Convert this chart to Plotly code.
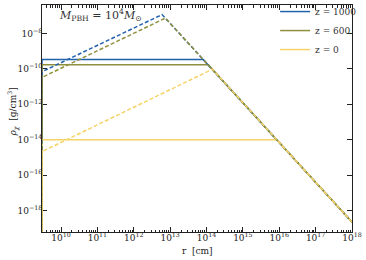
import plotly.graph_objects as go
import numpy as np

# ---- data ----
z_labels = ["z = 1000", "z = 600", "z = 0"]
colors = ["#2262ad", "#8f8f3d", "#f6d366"]

r_min = 3e9
r_max = 1e18
rho_rmax = 2.2e-19          # common r^-9/4 tail value at r_max

# solid curves: plateau then r^-9/4 tail
rho_plateau = [3.4e-10, 1.7e-10, 1.0e-14]
r_knee_solid = [8.1e13, 1.12e14, 8.5e15]

# dashed curves: rising part, peak, then same tail
rho_dashed_rmin = [6.9e-11, 3.3e-11, 2.1e-15]
r_peak_dashed = [6.0e12, 7.4e12, 1.45e14]
rho_peak_dashed = [1.17e-7, 7.4e-8, 9.5e-11]

rho_floor = 1e-30            # curves drop to ~0 at r_min

x_tick_vals = [1e10, 1e11, 1e12, 1e13, 1e14, 1e15, 1e16, 1e17, 1e18]
x_tick_text = ["10<sup>%d</sup>" % e for e in range(10, 19)]
y_tick_vals = [1e-8, 1e-10, 1e-12, 1e-14, 1e-16, 1e-18]
y_tick_text = ["10<sup>\u2212%d</sup>" % e for e in (8, 10, 12, 14, 16, 18)]

FONT = "DejaVu Serif"

fig = go.Figure()

# solid lines
for i in range(3):
    fig.add_trace(go.Scatter(
        x=[r_min, r_min, r_knee_solid[i], r_max],
        y=[rho_floor, rho_plateau[i], rho_plateau[i], rho_rmax],
        mode="lines", name=z_labels[i],
        line=dict(color=colors[i], width=1.5),
        showlegend=True))
# dashed lines
for i in range(3):
    fig.add_trace(go.Scatter(
        x=[r_min, r_min, r_peak_dashed[i], r_max],
        y=[rho_floor, rho_dashed_rmin[i], rho_peak_dashed[i], rho_rmax],
        mode="lines", name=z_labels[i] + " (dashed)",
        line=dict(color=colors[i], width=1.5, dash="4px,2.2px"),
        showlegend=False))

minor_x = [k * 10.0**n for n in range(9, 18) for k in range(2, 10)]

fig.update_xaxes(
    type="log", range=[np.log10(r_min), 18], automargin=False,
    tickvals=x_tick_vals, ticktext=x_tick_text,
    ticks="inside", ticklen=5, tickwidth=1, tickcolor="#222",
    mirror="allticks", showline=True, linecolor="#222", linewidth=1,
    showgrid=False, zeroline=False,
    minor=dict(tickvals=minor_x, ticks="inside", ticklen=2.5,
               tickwidth=0.8, tickcolor="#222", showgrid=False),
    tickfont=dict(family=FONT, size=9, color="#222"),
    ticklabelstandoff=-3,
    layer="below traces",
)
fig.update_yaxes(
    type="log", range=[-19.22, -6.39], automargin=False,
    tickvals=y_tick_vals, ticktext=y_tick_text,
    ticks="inside", ticklen=5, tickwidth=1, tickcolor="#222",
    mirror="allticks", showline=True, linecolor="#222", linewidth=1,
    showgrid=False, zeroline=False,
    tickfont=dict(family=FONT, size=9, color="#222"),
    ticklabelstandoff=-3,
    layer="below traces",
)

fig.add_annotation(
    text="<i>M</i><sub>PBH</sub> = 10<sup>4</sup><i>M</i><sub>\u2299</sub>",
    xref="paper", yref="paper", x=0.048, y=0.955, xanchor="left", yanchor="middle",
    showarrow=False, font=dict(family=FONT, size=11, color="#333"))

fig.add_annotation(
    text="<i>\u03c1</i><sub><i>\u03c7</i></sub>  [g/cm<sup>3</sup>]",
    xref="paper", yref="paper", x=-0.094, y=0.53, xanchor="center", yanchor="middle",
    textangle=-90, showarrow=False, font=dict(family=FONT, size=9, color="#222"))

fig.add_annotation(
    text="r  [cm]",
    xref="paper", yref="paper", x=0.5, y=-0.055, xanchor="center", yanchor="top",
    showarrow=False, font=dict(family=FONT, size=9, color="#222"))

fig.update_layout(
    template="none",
    width=366, height=260,
    margin=dict(l=42, r=14, t=5, b=28, autoexpand=False),
    paper_bgcolor="white", plot_bgcolor="white",
    showlegend=True,
    legend=dict(x=0.752, y=1.035, xanchor="left", yanchor="top",
                bgcolor="rgba(0,0,0,0)", itemwidth=30, tracegroupgap=0,
                font=dict(family=FONT, size=9, color="#333")),
)

fig.write_html("out.html", config={"displayModeBar": False},
               post_script="document.body.style.margin='0';document.body.style.overflow='hidden';")
